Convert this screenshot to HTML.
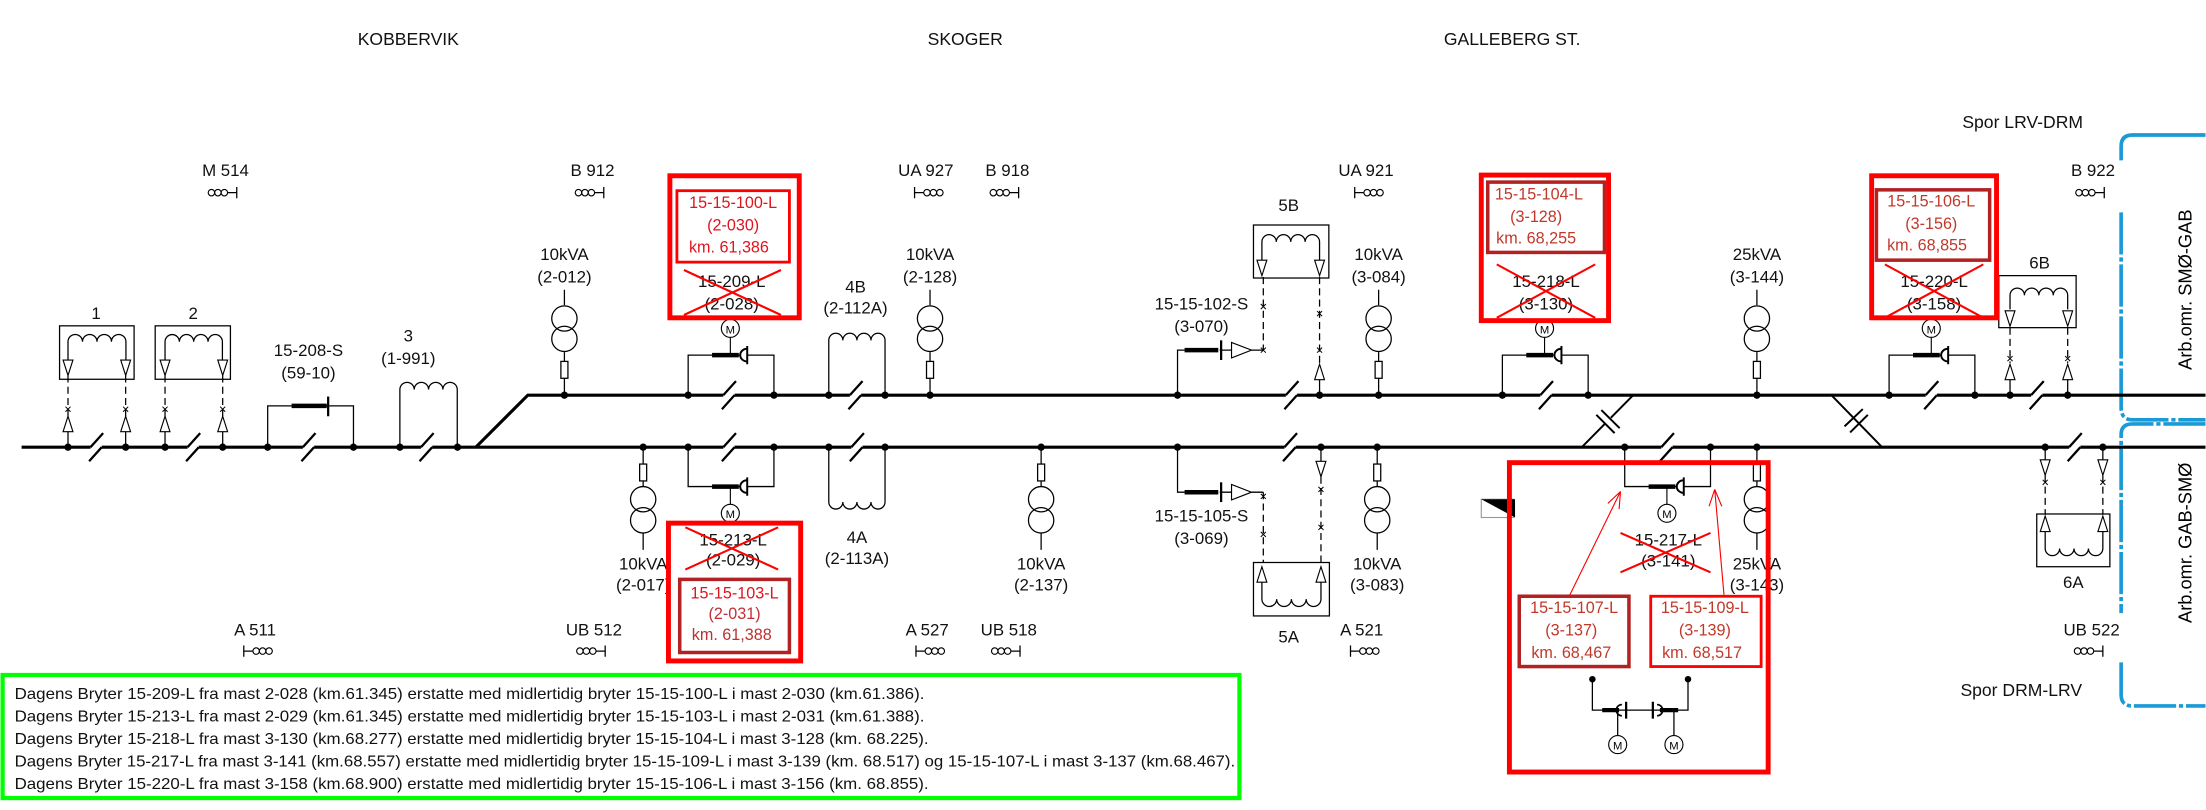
<!DOCTYPE html>
<html><head><meta charset="utf-8"><style>
html,body{margin:0;padding:0;background:#fff}
svg{display:block}
text{font-family:"Liberation Sans",sans-serif}
</style></head><body>
<svg width="2206" height="810" viewBox="0 0 1568 576" xmlns="http://www.w3.org/2000/svg">
<rect x="0" y="0" width="1568" height="576" fill="#fff"/>
<defs>
<g id="dot"><circle r="2.6" fill="#000"/></g>
<g id="sl"><rect x="-4" y="-2" width="8" height="4" fill="#fff"/><path d="M-4 0 L5 -10 M-5 10 L4 0" stroke="#000" stroke-width="1.6" fill="none"/></g>
<g id="symR"><circle cx="-8" cy="0" r="2.3" fill="none" stroke="#000" stroke-width="0.8"/><circle cx="-3.4" cy="0" r="2.3" fill="none" stroke="#000" stroke-width="0.8"/><circle cx="1.2" cy="0" r="2.3" fill="none" stroke="#000" stroke-width="0.8"/><path d="M3.5 0 H10 M10 -4 V4" stroke="#000" stroke-width="0.9"/></g>
<g id="symL"><use href="#symR" transform="scale(-1,1)"/></g>
<g id="trT" stroke="#000" stroke-width="0.9" fill="none"><path d="M0 206 V217 M0 250.5 V257 M0 269 V281"/><circle cx="0" cy="226.5" r="9"/><circle cx="0" cy="241" r="9"/><rect x="-2.5" y="257" width="5" height="12"/></g>
<g id="trB" stroke="#000" stroke-width="0.9" fill="none"><path d="M0 318 V330 M0 342 V346 M0 379 V391"/><circle cx="0" cy="355" r="9"/><circle cx="0" cy="370" r="9"/><rect x="-2.5" y="330" width="5" height="12"/></g>
<g id="bpT"><path d="M0 281 V252.5 H61 V281" stroke="#000" stroke-width="0.9" fill="none"/><path d="M17 252.5 H36" stroke="#000" stroke-width="3.2"/><path d="M42 246 V259 M42 248 A5 4.5 0 0 0 42 257" stroke="#000" stroke-width="1.4" fill="#fff"/><path d="M30 240 V252.5" stroke="#000" stroke-width="0.8"/><circle cx="30" cy="233.5" r="6.4" fill="#fff" stroke="#000" stroke-width="0.8"/><text x="30" y="237" font-size="8" text-anchor="middle">M</text></g>
<g id="bpB"><path d="M0 318 V346 H61 V318" stroke="#000" stroke-width="0.9" fill="none"/><path d="M17 346 H36" stroke="#000" stroke-width="3.2"/><path d="M42 339.5 V352.5 M42 341.5 A5 4.5 0 0 0 42 350.5" stroke="#000" stroke-width="1.4" fill="#fff"/><path d="M30 346 V358.5" stroke="#000" stroke-width="0.8"/><circle cx="30" cy="365" r="6.4" fill="#fff" stroke="#000" stroke-width="0.8"/><text x="30" y="368.5" font-size="8" text-anchor="middle">M</text></g>
<g id="tdn"><polygon points="-3.5,0 3.5,0 0,11" fill="#fff" stroke="#000" stroke-width="0.8"/></g>
<g id="tup"><polygon points="-3.5,11 3.5,11 0,0" fill="#fff" stroke="#000" stroke-width="0.8"/></g>
<g id="xm"><path d="M-1.8 -1.8 L1.8 1.8 M-1.8 1.8 L1.8 -1.8" stroke="#000" stroke-width="0.7"/></g>
</defs>

<!-- headings -->
<g font-size="12.5" text-anchor="middle" fill="#111">
<text x="290" y="32">KOBBERVIK</text>
<text x="686" y="32">SKOGER</text>
<text x="1075" y="32">GALLEBERG ST.</text>
<text x="1438" y="91">Spor LRV-DRM</text>
<text x="1437" y="495">Spor DRM-LRV</text>
</g>

<!-- blue bracket -->
<g stroke="#1a9ad6" stroke-width="2.6" fill="none">
<path d="M1568 96 H1516 Q1508 96 1508 104 V114"/>
<path d="M1508 151 V290 Q1508 298.5 1516 298.5 H1568" stroke-dasharray="30 2 3 2"/>
<path d="M1568 301.5 H1516 Q1508 301.5 1508 309 V436" stroke-dasharray="30 2 3 2"/>
<path d="M1508 471 V494 Q1508 502 1516 502 H1568" stroke-dasharray="30 2 3 2"/>
</g>
<text font-size="13" text-anchor="middle" transform="translate(1558,206) rotate(-90)">Arb.omr. SMØ-GAB</text>
<text font-size="13" text-anchor="middle" transform="translate(1558,386) rotate(-90)">Arb.omr. GAB-SMØ</text>

<!-- mast labels -->
<g font-size="12" text-anchor="middle" fill="#111">
<text x="160" y="125">M 514</text><text x="421" y="125">B 912</text><text x="658" y="125">UA 927</text><text x="716" y="125">B 918</text><text x="971" y="125">UA 921</text><text x="1488" y="125">B 922</text>
<text x="181" y="452">A 511</text><text x="422" y="452">UB 512</text><text x="659" y="452">A 527</text><text x="717" y="452">UB 518</text><text x="968" y="452">A 521</text><text x="1487" y="452">UB 522</text>
</g>
<use href="#symR" x="158" y="137"/><use href="#symR" x="419" y="137"/><use href="#symL" x="660" y="137"/><use href="#symR" x="714" y="137"/><use href="#symL" x="973" y="137"/><use href="#symR" x="1486" y="137"/>
<use href="#symL" x="183" y="463"/><use href="#symR" x="420" y="463"/><use href="#symL" x="661" y="463"/><use href="#symR" x="715" y="463"/><use href="#symL" x="970" y="463"/><use href="#symR" x="1485" y="463"/>

<!-- buses -->
<path d="M15 318 H1568" stroke="#000" stroke-width="2.2"/>
<path d="M338 318 L375 281 H1568" stroke="#000" stroke-width="2.2" fill="none"/>
<!-- crossovers -->
<g stroke="#000" stroke-width="1.4" fill="none">
<path d="M1161 281 L1125 317.5"/><path d="M1302 281 L1337.5 317.5"/>
</g>
<path d="M1141 299 L1145 303 M1140 294 L1147 301" stroke="#fff" stroke-width="3"/>
<g stroke="#000" stroke-width="1.4"><path d="M1134.8 295 L1147.8 308 M1138.4 291.6 L1151.4 304.5"/><path d="M1311.3 303.2 L1324.3 290.9 M1315.3 307.5 L1327.9 295"/></g>

<!-- left boxes 1,2 -->
<g stroke="#000" stroke-width="0.9" fill="none">
<rect x="42" y="231.7" width="53" height="38" fill="#fff"/>
<rect x="110" y="231.7" width="53.5" height="38" fill="#fff"/>
<path d="M48 256 V243 a5.15 5.15 0 0 1 10.3 0 a5.15 5.15 0 0 1 10.3 0 a5.15 5.15 0 0 1 10.3 0 a5.15 5.15 0 0 1 10.3 0 V256"/>
<path d="M117 256 V243 a5.1 5.1 0 0 1 10.2 0 a5.1 5.1 0 0 1 10.2 0 a5.1 5.1 0 0 1 10.2 0 a5.1 5.1 0 0 1 10.2 0 V256"/>
<path d="M48 267 V296 M89 267 V296 M117 267 V296 M158 267 V296" stroke-dasharray="5 3"/>
<path d="M48 306 V318 M89 306 V318 M117 306 V318 M158 306 V318"/>
</g>
<use href="#tdn" x="48" y="256"/><use href="#tdn" x="89" y="256"/><use href="#tdn" x="117" y="256"/><use href="#tdn" x="158" y="256"/>
<use href="#tup" x="48" y="296"/><use href="#tup" x="89" y="296"/><use href="#tup" x="117" y="296"/><use href="#tup" x="158" y="296"/>
<use href="#xm" x="48" y="291"/><use href="#xm" x="89" y="291"/><use href="#xm" x="117" y="291"/><use href="#xm" x="158" y="291"/>
<g font-size="12" text-anchor="middle" fill="#111">
<text x="68" y="227">1</text><text x="137" y="227">2</text>
<text x="219" y="253">15-208-S</text><text x="219" y="269">(59-10)</text>
<text x="290" y="243">3</text><text x="290" y="259">(1-991)</text>
</g>
<!-- 15-208-S -->
<path d="M190 318 V288.6 H251 V318" stroke="#000" stroke-width="0.9" fill="none"/>
<path d="M207 288.6 H232" stroke="#000" stroke-width="3.2"/><path d="M233 282 V296" stroke="#000" stroke-width="1.6"/>
<!-- coil 3 -->
<path d="M284 318 V277 a5.1 5.1 0 0 1 10.2 0 a5.1 5.1 0 0 1 10.2 0 a5.1 5.1 0 0 1 10.2 0 a5.1 5.1 0 0 1 10.2 0 V318" stroke="#000" stroke-width="0.9" fill="none"/>
<!-- coil 4B / 4A -->
<path d="M589 281 V242 a5 5 0 0 1 10 0 a5 5 0 0 1 10 0 a5 5 0 0 1 10 0 a5 5 0 0 1 10 0 V281" stroke="#000" stroke-width="0.9" fill="none"/>
<path d="M589 318 V357 a5 5 0 0 0 10 0 a5 5 0 0 0 10 0 a5 5 0 0 0 10 0 a5 5 0 0 0 10 0 V318" stroke="#000" stroke-width="0.9" fill="none"/>
<g font-size="12" text-anchor="middle" fill="#111">
<text x="608" y="208">4B</text><text x="608" y="223">(2-112A)</text>
<text x="609" y="386">4A</text><text x="609" y="401">(2-113A)</text>
</g>

<!-- transformers -->
<use href="#trT" x="401"/><use href="#trT" x="661"/><use href="#trT" x="980"/><use href="#trT" x="1249"/>
<use href="#trB" x="457"/><use href="#trB" x="740"/><use href="#trB" x="979"/><use href="#trB" x="1249"/>
<g font-size="12" text-anchor="middle" fill="#111">
<text x="401" y="185">10kVA</text><text x="401" y="201">(2-012)</text>
<text x="661" y="185">10kVA</text><text x="661" y="201">(2-128)</text>
<text x="980" y="185">10kVA</text><text x="980" y="201">(3-084)</text>
<text x="1249" y="185">25kVA</text><text x="1249" y="201">(3-144)</text>
<text x="457" y="405">10kVA</text><text x="457" y="420">(2-017)</text>
<text x="740" y="405">10kVA</text><text x="740" y="420">(2-137)</text>
<text x="979" y="405">10kVA</text><text x="979" y="420">(3-083)</text>
<text x="1249" y="405">25kVA</text><text x="1249" y="420">(3-143)</text>
</g>

<!-- bypass motor switches -->
<use href="#bpT" x="489"/><use href="#bpT" x="1068"/><use href="#bpT" x="1343"/>
<use href="#bpB" x="489"/><use href="#bpB" x="1155"/>

<!-- 5B / 102-S -->
<g stroke="#000" stroke-width="0.9" fill="none">
<rect x="891" y="160" width="53.6" height="37.7" fill="#fff"/>
<path d="M897 185 V172 a5.125 5.125 0 0 1 10.25 0 a5.125 5.125 0 0 1 10.25 0 a5.125 5.125 0 0 1 10.25 0 a5.125 5.125 0 0 1 10.25 0 V185"/>
<path d="M898 197 V249 M938 197 V258" stroke-dasharray="5 3"/>
<path d="M938 270 V281 M837 281 V249 H842 M867 249 H875.4 M889.6 249 H898"/>
<rect x="891" y="400" width="54" height="38" fill="#fff"/>
<path d="M897 413 V426 a5.25 5.25 0 0 0 10.5 0 a5.25 5.25 0 0 0 10.5 0 a5.25 5.25 0 0 0 10.5 0 a5.25 5.25 0 0 0 10.5 0 V413"/>
<path d="M898 350 V400 M939 339 V400" stroke-dasharray="5 3"/>
<path d="M939 318 V328 M837 318 V350 H842 M867 350 H875.4 M889.6 350 H898"/>
</g>
<use href="#tdn" x="897" y="185"/><use href="#tdn" x="938" y="185"/>
<polygon points="875.4,243.5 875.4,254.5 889.6,249" fill="#fff" stroke="#000" stroke-width="0.8"/>
<path d="M842 249 H866" stroke="#000" stroke-width="3.2"/><path d="M868 242 V256" stroke="#000" stroke-width="1.6"/>
<use href="#tup" x="938" y="259"/>
<use href="#xm" x="898" y="218"/><use href="#xm" x="898" y="249"/><use href="#xm" x="938" y="223"/><use href="#xm" x="938" y="249"/>
<use href="#tup" x="897" y="403"/><use href="#tup" x="939" y="403"/>
<polygon points="875.4,344.5 875.4,355.5 889.6,350" fill="#fff" stroke="#000" stroke-width="0.8"/>
<path d="M842 350 H866" stroke="#000" stroke-width="3.2"/><path d="M868 343 V357" stroke="#000" stroke-width="1.6"/>
<use href="#tdn" x="939" y="328"/>
<use href="#xm" x="898" y="353"/><use href="#xm" x="898" y="380"/><use href="#xm" x="939" y="348"/><use href="#xm" x="939" y="375"/>
<g font-size="12" text-anchor="middle" fill="#111">
<text x="916" y="150">5B</text><text x="854" y="220">15-15-102-S</text><text x="854" y="236">(3-070)</text>
<text x="916" y="457">5A</text><text x="854" y="371">15-15-105-S</text><text x="854" y="387">(3-069)</text>
<text x="1450" y="191">6B</text><text x="1474" y="418">6A</text>
</g>

<!-- 6B / 6A -->
<g stroke="#000" stroke-width="0.9" fill="none">
<rect x="1421" y="196" width="55" height="37" fill="#fff"/>
<path d="M1429 220 V210 a5.125 5.125 0 0 1 10.25 0 a5.125 5.125 0 0 1 10.25 0 a5.125 5.125 0 0 1 10.25 0 a5.125 5.125 0 0 1 10.25 0 V220"/>
<path d="M1429 233 V258 M1470 233 V258" stroke-dasharray="5 3"/>
<path d="M1429 270 V281 M1470 270 V281"/>
<rect x="1448" y="365.5" width="52" height="37.5" fill="#fff"/>
<path d="M1454 378 V390 a5.125 5.125 0 0 0 10.25 0 a5.125 5.125 0 0 0 10.25 0 a5.125 5.125 0 0 0 10.25 0 a5.125 5.125 0 0 0 10.25 0 V378"/>
<path d="M1454 338 V366 M1495 338 V366" stroke-dasharray="5 3"/>
<path d="M1454 318 V328 M1495 318 V328"/>
</g>
<use href="#tdn" x="1429" y="221"/><use href="#tdn" x="1470" y="221"/><use href="#tup" x="1429" y="259"/><use href="#tup" x="1470" y="259"/>
<use href="#xm" x="1429" y="255"/><use href="#xm" x="1470" y="255"/>
<use href="#tdn" x="1454" y="327"/><use href="#tdn" x="1495" y="327"/><use href="#tup" x="1454" y="367"/><use href="#tup" x="1495" y="367"/>
<use href="#xm" x="1454" y="343"/><use href="#xm" x="1495" y="343"/>

<!-- slashes -->
<use href="#sl" x="68" y="318"/><use href="#sl" x="137" y="318"/><use href="#sl" x="219" y="318"/><use href="#sl" x="303" y="318"/><use href="#sl" x="518" y="318"/><use href="#sl" x="609" y="318"/><use href="#sl" x="917" y="318"/><use href="#sl" x="1185" y="318"/><use href="#sl" x="1475" y="318"/>
<use href="#sl" x="518" y="281"/><use href="#sl" x="608" y="281"/><use href="#sl" x="918" y="281"/><use href="#sl" x="1099" y="281"/><use href="#sl" x="1373" y="281"/><use href="#sl" x="1448" y="281"/>

<!-- dots -->
<g>
<use href="#dot" x="401" y="281"/><use href="#dot" x="489" y="281"/><use href="#dot" x="550" y="281"/><use href="#dot" x="589" y="281"/><use href="#dot" x="629" y="281"/><use href="#dot" x="661" y="281"/><use href="#dot" x="837" y="281"/><use href="#dot" x="938" y="281"/><use href="#dot" x="980" y="281"/><use href="#dot" x="1068" y="281"/><use href="#dot" x="1129" y="281"/><use href="#dot" x="1249" y="281"/><use href="#dot" x="1343" y="281"/><use href="#dot" x="1404" y="281"/><use href="#dot" x="1429" y="281"/><use href="#dot" x="1470" y="281"/>
<use href="#dot" x="48" y="318"/><use href="#dot" x="89" y="318"/><use href="#dot" x="117" y="318"/><use href="#dot" x="158" y="318"/><use href="#dot" x="190" y="318"/><use href="#dot" x="251" y="318"/><use href="#dot" x="284" y="318"/><use href="#dot" x="325" y="318"/><use href="#dot" x="457" y="318"/><use href="#dot" x="489" y="318"/><use href="#dot" x="550" y="318"/><use href="#dot" x="589" y="318"/><use href="#dot" x="629" y="318"/><use href="#dot" x="740" y="318"/><use href="#dot" x="837" y="318"/><use href="#dot" x="939" y="318"/><use href="#dot" x="979" y="318"/><use href="#dot" x="1155" y="318"/><use href="#dot" x="1216" y="318"/><use href="#dot" x="1249" y="318"/><use href="#dot" x="1454" y="318"/><use href="#dot" x="1495" y="318"/>
</g>

<!-- small flag square -->
<rect x="1053" y="355" width="23" height="13" fill="#fff" stroke="#999" stroke-width="0.8"/>
<polygon points="1053,355 1077,355 1077,368" fill="#000"/>

<!-- red box A -->
<g fill="none">
<rect x="476" y="125" width="92" height="101" stroke="#f00" stroke-width="3.5"/>
<rect x="481" y="135.6" width="80" height="50.8" stroke="#f00" stroke-width="2"/>
<rect x="475" y="372" width="94" height="98" stroke="#f00" stroke-width="3.5"/>
<rect x="483" y="412" width="78" height="52" stroke="#b22222" stroke-width="2.5"/>
<rect x="1053" y="124.5" width="90.5" height="103.5" stroke="#f00" stroke-width="3.5"/>
<rect x="1057.6" y="129.5" width="83" height="50" stroke="#b22222" stroke-width="2.5"/>
<rect x="1330.6" y="125" width="88.8" height="101" stroke="#f00" stroke-width="3.5"/>
<rect x="1334" y="135" width="80.5" height="50" stroke="#b22222" stroke-width="2.5"/>
<rect x="1073" y="329" width="184" height="220" stroke="#f00" stroke-width="3.5"/>
<rect x="1080" y="424" width="78" height="50" stroke="#b22222" stroke-width="2.5"/>
<rect x="1173.5" y="424" width="78.5" height="50" stroke="#f00" stroke-width="2"/>
</g>
<g font-size="11.5" text-anchor="middle" fill="#e0141e">
<text x="521" y="148">15-15-100-L</text><text x="521" y="164">(2-030)</text><text x="518" y="179.5">km. 61,386</text>
<text x="522" y="425.5">15-15-103-L</text><text x="522" y="440" fill="#c0303a">(2-031)</text><text x="520" y="455" fill="#c03030">km. 61,388</text>
</g>
<g font-size="11.5" text-anchor="middle" fill="#c0392b">
<text x="1094" y="142">15-15-104-L</text><text x="1092" y="158">(3-128)</text><text x="1092" y="173">km. 68,255</text>
<text x="1373" y="147">15-15-106-L</text><text x="1373" y="163">(3-156)</text><text x="1370" y="178">km. 68,855</text>
<text x="1119" y="436">15-15-107-L</text><text x="1117" y="452">(3-137)</text><text x="1117" y="468">km. 68,467</text>
<text x="1212" y="436">15-15-109-L</text><text x="1212" y="452">(3-139)</text><text x="1210" y="468">km. 68,517</text>
</g>
<g font-size="12" text-anchor="middle" fill="#111">
<text x="520" y="204">15-209-L</text><text x="520" y="220">(2-028)</text>
<text x="521" y="388">15-213-L</text><text x="521" y="402">(2-029)</text>
<text x="1099" y="204">15-218-L</text><text x="1099" y="220">(3-130)</text>
<text x="1375" y="204">15-220-L</text><text x="1375" y="220">(3-158)</text>
<text x="1186" y="388">15-217-L</text><text x="1186" y="403">(3-141)</text>
</g>
<g stroke="#f00" stroke-width="1.5">
<path d="M486 192 L555 224 M486 224 L555 192"/>
<path d="M487 375 L553 405 M487 405 L553 375"/>
<path d="M1064 188 L1134 226 M1064 226 L1134 188"/>
<path d="M1340 188 L1410 226 M1340 226 L1410 188"/>
<path d="M1152 379 L1216 407 M1152 407 L1216 379"/>
</g>
<!-- red arrows -->
<g stroke="#f00" stroke-width="0.8" fill="none">
<path d="M1116 423 L1152 349.5 M1152 349.5 L1143 358 M1152 349.5 L1151 362"/>
<path d="M1225.6 423 L1219 348 M1219 348 L1215 360 M1219 348 L1224 360"/>
</g>
<!-- bottom symbol in box E -->
<g stroke="#000" stroke-width="0.9" fill="none">
<path d="M1132 483 V505 H1200 V483"/>
<path d="M1150 505 V523 M1190 505 V523"/>
</g>
<circle cx="1132" cy="483" r="2.3"/><circle cx="1200" cy="483" r="2.3"/>
<path d="M1139 505 H1151 M1180 505 H1193" stroke="#000" stroke-width="3"/>
<path d="M1156 499 V511 M1175 499 V511" stroke="#000" stroke-width="1.6"/>
<path d="M1153 501 A4 4 0 0 0 1153 509 M1178 501 A4 4 0 0 1 1178 509" stroke="#000" stroke-width="1.2" fill="none"/>
<circle cx="1150" cy="529.5" r="6.4" fill="#fff" stroke="#000" stroke-width="0.8"/><circle cx="1190" cy="529.5" r="6.4" fill="#fff" stroke="#000" stroke-width="0.8"/>
<text x="1150" y="533" font-size="8" text-anchor="middle">M</text><text x="1190" y="533" font-size="8" text-anchor="middle">M</text>

<!-- green note box -->
<rect x="1.5" y="480" width="879.5" height="87.5" fill="none" stroke="#00ff00" stroke-width="3"/>
<g font-size="11" fill="#111">
<text x="10" y="497" textLength="647" lengthAdjust="spacingAndGlyphs">Dagens Bryter 15-209-L fra mast 2-028 (km.61.345) erstatte med midlertidig bryter 15-15-100-L i mast 2-030 (km.61.386).</text>
<text x="10" y="513" textLength="647" lengthAdjust="spacingAndGlyphs">Dagens Bryter 15-213-L fra mast 2-029 (km.61.345) erstatte med midlertidig bryter 15-15-103-L i mast 2-031 (km.61.388).</text>
<text x="10" y="529" textLength="650" lengthAdjust="spacingAndGlyphs">Dagens Bryter 15-218-L fra mast 3-130 (km.68.277) erstatte med midlertidig bryter 15-15-104-L i mast 3-128 (km. 68.225).</text>
<text x="10" y="545" textLength="868" lengthAdjust="spacingAndGlyphs">Dagens Bryter 15-217-L fra mast 3-141 (km.68.557) erstatte med midlertidig bryter 15-15-109-L i mast 3-139 (km. 68.517) og 15-15-107-L i mast 3-137 (km.68.467).</text>
<text x="10" y="561" textLength="650" lengthAdjust="spacingAndGlyphs">Dagens Bryter 15-220-L fra mast 3-158 (km.68.900) erstatte med midlertidig bryter 15-15-106-L i mast 3-156 (km. 68.855).</text>
</g>
</svg>
</body></html>
